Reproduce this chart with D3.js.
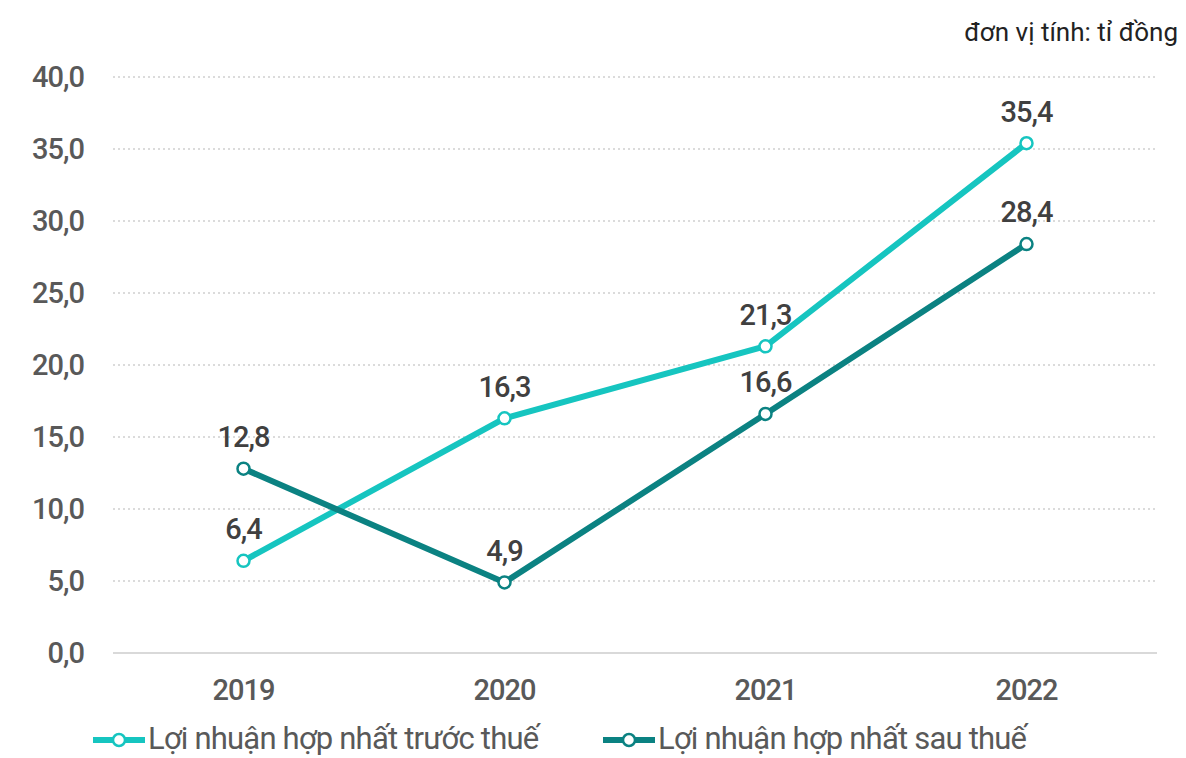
<!DOCTYPE html>
<html>
<head>
<meta charset="utf-8">
<script src="https://cdn.jsdelivr.net/npm/d3@7"></script>
<style>
    body { margin: 0; background: #fff; }
    svg { display: block; }
    .tick-label { font-family: Roboto, sans-serif; font-weight: 500; fill: #595959; font-size: 29px; letter-spacing: -1px; }
    .value-label { font-family: Roboto, sans-serif; font-weight: 500; fill: #404040; font-size: 29px; letter-spacing: -1px; }
    .legend-label { font-family: Roboto, sans-serif; fill: #595959; font-size: 31px; letter-spacing: -0.8px; }
    .unit { font-family: Roboto, sans-serif; fill: #222; font-size: 26px; }
</style>
</head>
<body>
<svg id="chart"></svg>
<script>
const years = ['2019', '2020', '2021', '2022'];
const truocThue = [6.4, 16.3, 21.3, 35.4];
const sauThue = [12.8, 4.9, 16.6, 28.4];
const yTicks = [0, 5, 10, 15, 20, 25, 30, 35, 40];
const seriesNames = ['Lợi nhuận hợp nhất trước thuế', 'Lợi nhuận hợp nhất sau thuế'];
const unitText = 'đơn vị tính: tỉ đồng';

const width = 1186, height = 758;
const margin = {top: 77, left: 113, right: 29, bottom: 105};

const svg = d3.select('#chart')
    .attr('width', width)
    .attr('height', height);

const x = d3.scaleBand()
    .domain(years)
    .range([margin.left, width - margin.right]);

const y = d3.scaleLinear()
    .domain([0, 40])
    .range([height - margin.bottom, margin.top]);

const fmt = v => d3.format('.1f')(v).replace('.', ',');

// gridlines
svg.append('g')
    .selectAll('line')
    .data(yTicks.filter(d => d > 0))
    .join('line')
    .attr('x1', margin.left)
    .attr('x2', width - margin.right)
    .attr('y1', d => y(d))
    .attr('y2', d => y(d))
    .attr('stroke', '#d0d0d0')
    .attr('stroke-width', 1.5)
    .attr('stroke-dasharray', '2,3');

svg.append('line')
    .attr('x1', margin.left)
    .attr('x2', width - margin.right)
    .attr('y1', y(0))
    .attr('y2', y(0))
    .attr('stroke', '#d9d9d9')
    .attr('stroke-width', 2);

// y tick labels
svg.append('g')
    .selectAll('text')
    .data(yTicks)
    .join('text')
    .attr('class', 'tick-label')
    .attr('x', 84)
    .attr('y', d => y(d))
    .attr('dy', '0.36em')
    .attr('text-anchor', 'end')
    .text(fmt);

// x tick labels
svg.append('g')
    .selectAll('text')
    .data(years)
    .join('text')
    .attr('class', 'tick-label')
    .attr('x', d => x(d) + x.bandwidth() / 2)
    .attr('y', 690)
    .attr('dy', '0.36em')
    .attr('text-anchor', 'middle')
    .text(d => d);

const series = [
    {name: seriesNames[0], values: truocThue, color: '#16C5C0'},
    {name: seriesNames[1], values: sauThue, color: '#0B8282'},
];

const line = d3.line()
    .x((d, i) => x(years[i]) + x.bandwidth() / 2)
    .y(d => y(d));

series.forEach(s => {
    const g = svg.append('g');
    g.append('path')
        .datum(s.values)
        .attr('d', line)
        .attr('fill', 'none')
        .attr('stroke', s.color)
        .attr('stroke-width', 6);

    g.selectAll('circle')
        .data(s.values)
        .join('circle')
        .attr('cx', (d, i) => x(years[i]) + x.bandwidth() / 2)
        .attr('cy', d => y(d))
        .attr('r', 6)
        .attr('fill', '#fff')
        .attr('stroke', s.color)
        .attr('stroke-width', 2.5);

    g.selectAll('text')
        .data(s.values)
        .join('text')
        .attr('class', 'value-label')
        .attr('x', (d, i) => x(years[i]) + x.bandwidth() / 2)
        .attr('y', d => y(d) - 32)
        .attr('dy', '0.36em')
        .attr('text-anchor', 'middle')
        .text(fmt);
});

// legend
const legendX = [93, 603];
series.forEach((s, i) => {
    const g = svg.append('g')
        .attr('transform', 'translate(' + legendX[i] + ',740)');
    g.append('line')
        .attr('x1', 0)
        .attr('x2', 52)
        .attr('stroke', s.color)
        .attr('stroke-width', 6);
    g.append('circle')
        .attr('cx', 26)
        .attr('r', 6)
        .attr('fill', '#fff')
        .attr('stroke', s.color)
        .attr('stroke-width', 2.5);
    g.append('text')
        .attr('class', 'legend-label')
        .attr('x', 55)
        .attr('y', 0)
        .attr('dy', '0.3em')
        .text(s.name);
});

svg.append('text')
    .attr('class', 'unit')
    .attr('x', 1178)
    .attr('y', 41)
    .attr('text-anchor', 'end')
    .text(unitText);
</script>
</body>
</html>
